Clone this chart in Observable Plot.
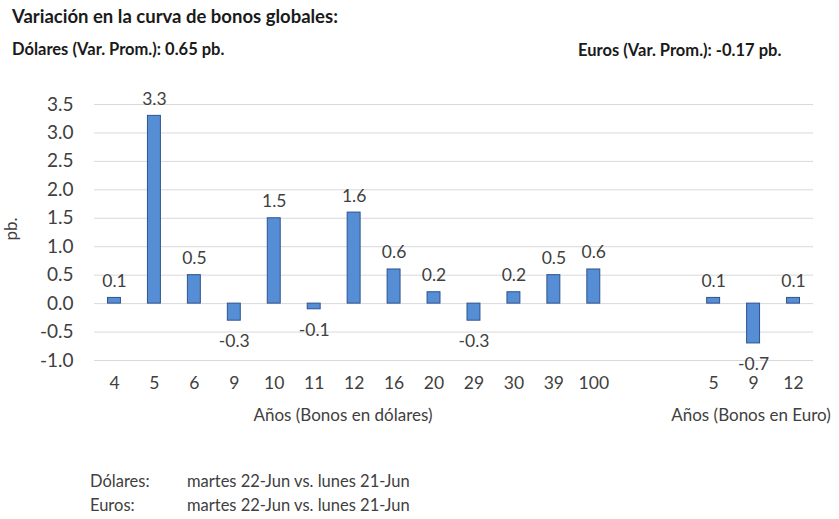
<!DOCTYPE html>
<html>
<head>
<meta charset="utf-8">
<script src="https://cdn.jsdelivr.net/npm/d3@7"></script>
<script src="https://cdn.jsdelivr.net/npm/@observablehq/plot@0.6"></script>
<style>
  body { margin: 0; background: #fff; }
  #wrap { position: relative; width: 839px; height: 519px; font-family: Lato, "Open Sans", sans-serif; color: #404040; overflow: hidden; }
  #wrap svg { position: absolute; left: 0; top: 0; }
  .t { position: absolute; white-space: nowrap; line-height: 1; }
  .b { font-weight: bold; color: #1a1a1a; }
</style>
</head>
<body>
<div id="wrap">
  <div class="t b" style="left:12px; top:7px; font-size:18.5px;">Variación en la curva de bonos globales:</div>
  <div class="t b" style="left:12px; top:41px; font-size:16.5px;">Dólares (Var. Prom.): 0.65 pb.</div>
  <div class="t b" style="left:578px; top:42px; font-size:16.5px;">Euros (Var. Prom.): -0.17 pb.</div>
  <div class="t" style="left:10px; top:229px; font-size:17px; transform: translate(-50%, -50%) rotate(-90deg);">pb.</div>
  <div class="t" style="left:343px; top:406px; font-size:17px; transform: translateX(-50%);">Años (Bonos en dólares)</div>
  <div class="t" style="left:751px; top:406px; font-size:17px; transform: translateX(-50%);">Años (Bonos en Euro)</div>
  <div class="t" style="left:90px; top:473px; font-size:16.5px;">Dólares:</div>
  <div class="t" style="left:187px; top:473px; font-size:16.5px;">martes 22-Jun vs. lunes 21-Jun</div>
  <div class="t" style="left:90px; top:497px; font-size:16.5px;">Euros:</div>
  <div class="t" style="left:187px; top:497px; font-size:16.5px;">martes 22-Jun vs. lunes 21-Jun</div>
</div>
<script>
const dollarYears = ["4","5","6","9","10","11","12","16","20","29","30","39","100"];
const dollarValues = [0.1, 3.3, 0.5, -0.3, 1.5, -0.1, 1.6, 0.6, 0.2, -0.3, 0.2, 0.5, 0.6];
const euroYears = ["5","9","12"];
const euroValues = [0.1, -0.7, 0.1];
const gapSlots = ["gap1", "gap2"];
const yTicks = [-1, -0.5, 0, 0.5, 1, 1.5, 2, 2.5, 3, 3.5];

const data = [
  ...dollarYears.map((y, i) => ({key: "D" + y, label: y, value: dollarValues[i]})),
  ...euroYears.map((y, i) => ({key: "E" + y, label: y, value: euroValues[i]}))
];
const domain = [...dollarYears.map(y => "D" + y), ...gapSlots, ...euroYears.map(y => "E" + y)];
const labelOf = k => k.startsWith("gap") ? "" : k.slice(1);
const fmt = v => v.toFixed(1);

const chart = Plot.plot({
  width: 839,
  height: 440,
  marginLeft: 94,
  marginRight: 26,
  marginTop: 104,
  marginBottom: 80,
  style: {fontFamily: "Lato, 'Open Sans', sans-serif", color: "#404040", background: "transparent"},
  x: {domain, type: "band", padding: 0, round: false, label: null},
  y: {domain: [-1, 3.5], label: null},
  marks: [
    Plot.gridY(yTicks, {stroke: "#d9d9d9", strokeOpacity: 1, strokeWidth: 1}),
    Plot.barY(data, {x: "key", y: "value", fill: "#558ed5", stroke: "#2f528f", strokeWidth: 1, insetLeft: 13.5, insetRight: 13.5}),
    Plot.text(data.filter(d => d.value >= 0), {x: "key", y: "value", text: d => fmt(d.value), lineAnchor: "bottom", dy: -11, fontSize: 17.5, fill: "#404040"}),
    Plot.text(data.filter(d => d.value < 0), {x: "key", y: "value", text: d => fmt(d.value), lineAnchor: "top", dy: 14, fontSize: 17.5, fill: "#404040"}),
    Plot.axisY(yTicks, {tickSize: 0, tickPadding: 21, tickFormat: fmt, fontSize: 19, fill: "#404040", label: null}),
    Plot.axisX({tickSize: 0, tickPadding: 16, tickFormat: labelOf, fontSize: 17.5, fill: "#404040", label: null})
  ]
});
document.getElementById("wrap").prepend(chart);
</script>
</body>
</html>
